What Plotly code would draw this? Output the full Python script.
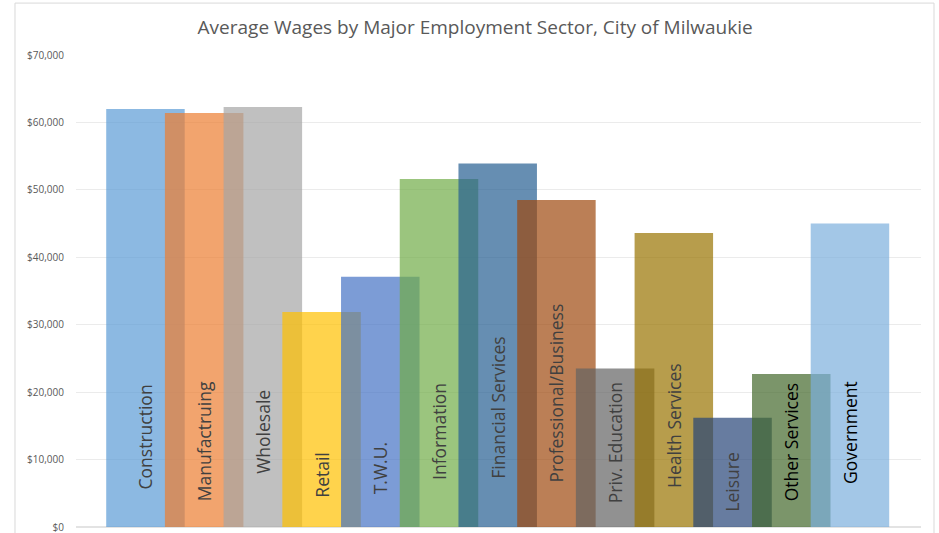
import plotly.graph_objects as go

# Average annual wage by sector
sectors = ["Construction", "Manufactruing", "Wholesale", "Retail", "T.W.U.",
           "Information", "Financial Services", "Professional/Business",
           "Priv. Education", "Health Services", "Leisure", "Other Services",
           "Government"]
wages = [62000, 61400, 62300, 31900, 37100, 51600, 53900, 48500,
         23500, 43600, 16200, 22700, 45000]

# Office-style palette, one colour per sector
colors = ["#5B9BD5", "#ED7D31", "#A5A5A5", "#FFC000", "#4472C4", "#70AD47",
          "#255E91", "#9E480E", "#636363", "#997300", "#264478", "#43682B",
          "#7CAFDD"]
label_colors = ["#404040"] * 11 + ["#000000", "#000000"]
# vertical centre of each in-bar label (data units)
label_mid = [13350, 12750, 14100, 7700, 8750, 14100, 17650, 19850,
             12450, 15100, 6650, 12600, 14100]

fig = go.Figure()
for i, (s, v, c) in enumerate(zip(sectors, wages, colors)):
    fig.add_trace(go.Bar(
        x=[i], y=[v], width=1.337, marker=dict(color=c, line=dict(width=0)),
        opacity=0.7, name=s, showlegend=False, hoverinfo="x+y"))
    fig.add_annotation(x=i, y=label_mid[i], text=s, textangle=-90,
                       showarrow=False, xanchor="center", yanchor="middle",
                       font=dict(family="Open Sans", size=17.5,
                                 color=label_colors[i]))

fig.update_layout(
    width=939, height=533,
    margin=dict(l=76, r=18, t=55, b=6, autoexpand=False),
    paper_bgcolor="white", plot_bgcolor="white",
    barmode="overlay",
    title=dict(text="Average Wages by Major Employment Sector, City of Milwaukie",
               x=0.506, xanchor="center", y=0.949, yanchor="middle",
               font=dict(family="Open Sans", size=19, color="#595959")),
    xaxis=dict(range=[-1.183, 13.21], showticklabels=False, showgrid=False,
               zeroline=False, showline=False, ticks="", automargin=False),
    yaxis=dict(range=[0, 70000], dtick=10000, tickprefix="$",
               tickformat=",", showgrid=True, gridcolor="#EBEBEB",
               gridwidth=1, zeroline=True, zerolinecolor="#E3E3E3",
               showline=False, ticks="", ticklen=0, automargin=False,
               ticklabeloverflow="allow", ticklabelstandoff=11,
               tickfont=dict(family="Open Sans", size=10, color="#595959")),
    shapes=[dict(type="rect", xref="paper", yref="paper",
                 x0=-0.0722, x1=1.0154, y0=-0.03, y1=1.110,
                 line=dict(color="#D9D9D9", width=1), layer="below")],
)

fig.write_html("out.html")
